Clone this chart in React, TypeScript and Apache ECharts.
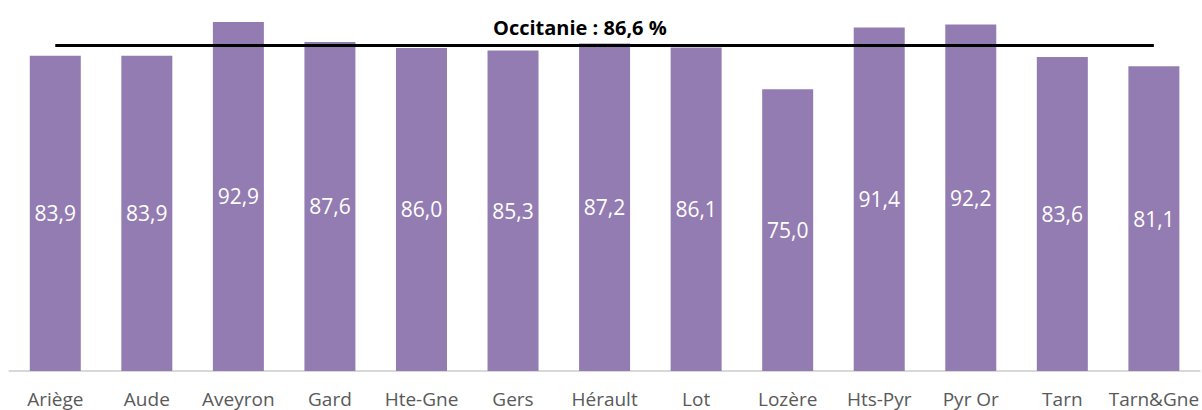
import React, { useEffect, useRef } from "react";
import * as echarts from "echarts";

const categories = ["Ariège", "Aude", "Aveyron", "Gard", "Hte-Gne", "Gers", "Hérault", "Lot", "Lozère", "Hts-Pyr", "Pyr Or", "Tarn", "Tarn&Gne"];
const values = [83.9, 83.9, 92.9, 87.6, 86.0, 85.3, 87.2, 86.1, 75.0, 91.4, 92.2, 83.6, 81.1];
const regionValue = 86.6;
const regionName = "Occitanie";

const fmt = (v: number) => v.toFixed(1).replace(".", ",");

export default function App() {
  const ref = useRef<HTMLDivElement>(null);
  useEffect(() => {
    if (!ref.current) return;
    const chart = echarts.init(ref.current, null, { renderer: "svg" });
    chart.setOption({
      animation: false,
      backgroundColor: "#ffffff",
      title: {
        text: `${regionName} : ${fmt(regionValue)} %`,
        left: 488,
        top: 12,
        textStyle: { fontFamily: "Open Sans", fontWeight: "bold", fontSize: 20, color: "#000000" },
      },
      grid: { left: 9.5, right: 0, top: 14.1, bottom: 39, containLabel: false },
      xAxis: {
        type: "category",
        data: categories,
        axisLine: { show: true, lineStyle: { color: "#D9D9D9", width: 2 } },
        axisTick: { show: false },
        axisLabel: { color: "#595959", fontFamily: "Open Sans", fontSize: 19, margin: 18, interval: 0 },
      },
      yAxis: {
        type: "value",
        min: 0,
        max: 95,
        show: false,
        splitLine: { show: false },
      },
      series: [
        {
          type: "bar",
          data: values,
          barWidth: 51,
          itemStyle: { color: "#937CB1" },
          label: {
            show: true,
            position: "inside",
            color: "#ffffff",
            fontFamily: "Open Sans",
            fontSize: 21,
            formatter: (p: any) => fmt(p.value),
          },
          markLine: {
            silent: true,
            symbol: ["none", "none"],
            label: { show: false },
            lineStyle: { color: "#000000", width: 3, type: "solid" },
            data: [[{ coord: [categories[0], regionValue] }, { coord: [categories[categories.length - 1], regionValue] }]],
          },
        },
      ],
    });
    return () => chart.dispose();
  }, []);
  return <div ref={ref} style={{ position: "fixed", left: 0, top: 0, width: 1202, height: 410 }} />;
}
